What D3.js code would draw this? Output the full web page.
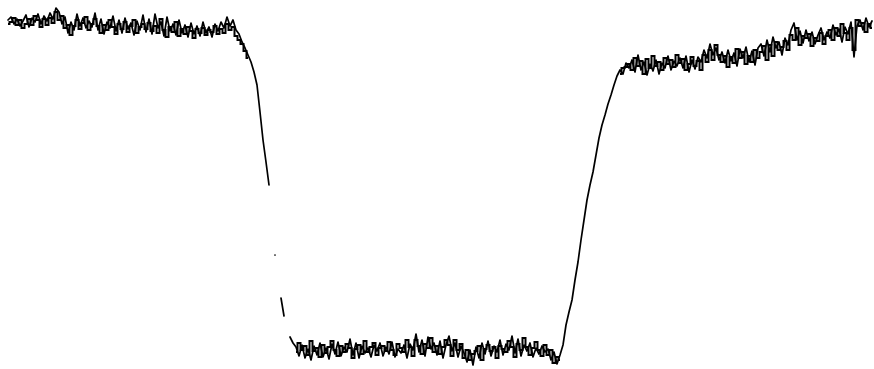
<!DOCTYPE html>
<html>
<head>
<meta charset="utf-8">
<script src="https://cdn.jsdelivr.net/npm/d3@7"></script>
<style>
  html, body { margin: 0; padding: 0; background: #fff; }
  svg { display: block; }
</style>
</head>
<body>
<svg id="chart" width="874" height="369"></svg>
<script>
// signal level per sample (one sample per step, null = trace lost)
// trace A
const highLevel = [350,353,346,351,344,349,355,343,352,348, 356,346,354,349,357,351,362,358,346,353,
  337,348,340,356,344,352,342,349,343,357, 340,351,336,348,342,354,339,350,337,352,
  341,347,335,349,340,355,338,351,336,356, 342,348,334,353,339,346,335,350,337,345,
  333,347,336,344,334,348,337,343,333,346, 339,348,342,353,344,350,340,336];
const fallEdge = [328,322,315,308,298,285,258,230,208,185,null,115,null,72,54,null,33,27];
const lowLevel = [23,14,25,12,21,10,24,15,27,13, 22,11,26,16,28,14,23,18,31,15,
  27,12,24,17,22,13,25,19,27,14, 23,16,28,13,21,17,25,12,26,20,
  36,18,30,14,33,21,27,15,29,12, 25,34,19,27,13,24,17,8,20,5,
  23,12,27,16,29,14,24,18,30,15, 26,20,34,17,31,14,25,19,27,13,
  22,16,24,18,21,10,18,6,15];
const riseEdge = [25,45,58,70,90,108,130,150,170,185,198,215,232,245,255,266,275,285,294,300,296,307];
const recoveryLevel = [302,310,298,315,300,308,295,306,299,310, 296,307,302,314,300,309,304,312,302,314,
  298,310,301,313,308,320,312,326,315,322, 310,318,307,320,309,317,304,321,312,323,
  308,319,305,322,326,314,330,318,333,322, 328,315,332,325,340,347,330,339,327,340,
  329,338,326,335,342,330,338,332,345,335, 341,328,343,336,348,313,344,350,340,352,
  343,349];

// trace B (second sweep, overlaps A on the flat parts)
const highLevelB = [346,348,352,345,350,342,346,351,345,354, 350,343,351,345,352,347,358,350,354,342,
  345,335,344,350,341,347,353,340,346,351, 344,337,345,340,350,343,336,346,341,348,
  338,344,350,337,343,346,341,347,339,344, 337,351,340,333,343,338,348,334,341,336,
  343,339,332,341,337,342,335,340,338,344, 336,341,337,346,340,343,334,330];
const fallEdgeB = [326,319,312,null,null,null,null,null,null,null,null,null,null,null,null,null,null,null];
const lowLevelB = [18,27,20,24,15,29,19,22,13,25, 17,23,29,20,14,24,18,26,22,12,
  21,25,16,29,18,23,27,15,22,24, 19,28,20,15,26,22,18,30,23,14,
  30,24,16,26,22,32,18,24,16,23, 30,25,14,30,20,26,12,20,10,16,
  19,24,10,21,25,19,23,12,24,21, 18,29,23,13,26,20,32,23,15,22,
  28,20,14,25,15,20,7,13,10];
const riseEdgeB = [null,null,null,null,null,null,null,null,null,null,null,null,null,null,null,null,null,null,null,296,302,303];
const recoveryLevelB = [306,300,312,304,309,296,311,302,314,304, 308,300,312,306,310,303,315,307,311,300,
  306,313,304,309,300,315,308,320,310,325, 315,308,314,303,313,307,321,312,318,306,
  314,308,320,312,318,324,310,325,314,328, 320,323,329,320,335,330,342,325,334,332,
  336,324,332,329,337,326,334,340,330,342, 334,346,337,330,342,320,350,344,347,338,
  346,342];

const traceA = [].concat(highLevel, fallEdge, lowLevel, riseEdge, recoveryLevel);
const traceB = [].concat(highLevelB, fallEdgeB, lowLevelB, riseEdgeB, recoveryLevelB);

const svg = d3.select("#chart");

let x = d3.scaleLinear()
  .domain([0, traceA.length - 1])
  .range([8, 872]);

let y = d3.scaleLinear()
  .domain([0, 370])
  .range([370, 0]);

let lineA = d3.line()
  .defined(d => d != null)
  .x((d, i) => x(i))
  .y(d => y(d));

let lineB = d3.line()
  .defined(d => d != null)
  .x((d, i) => x(i))
  .y(d => y(d))
  .curve(d3.curveStep);

svg.append("path")
  .datum(traceB)
  .attr("fill", "none")
  .attr("stroke", "#000")
  .attr("stroke-width", 2)
  .attr("d", lineB);

svg.append("path")
  .datum(traceA)
  .attr("fill", "none")
  .attr("stroke", "#000")
  .attr("stroke-width", 1.7)
  .attr("stroke-linejoin", "round")
  .attr("stroke-linecap", "round")
  .attr("d", lineA);
</script>
</body>
</html>
